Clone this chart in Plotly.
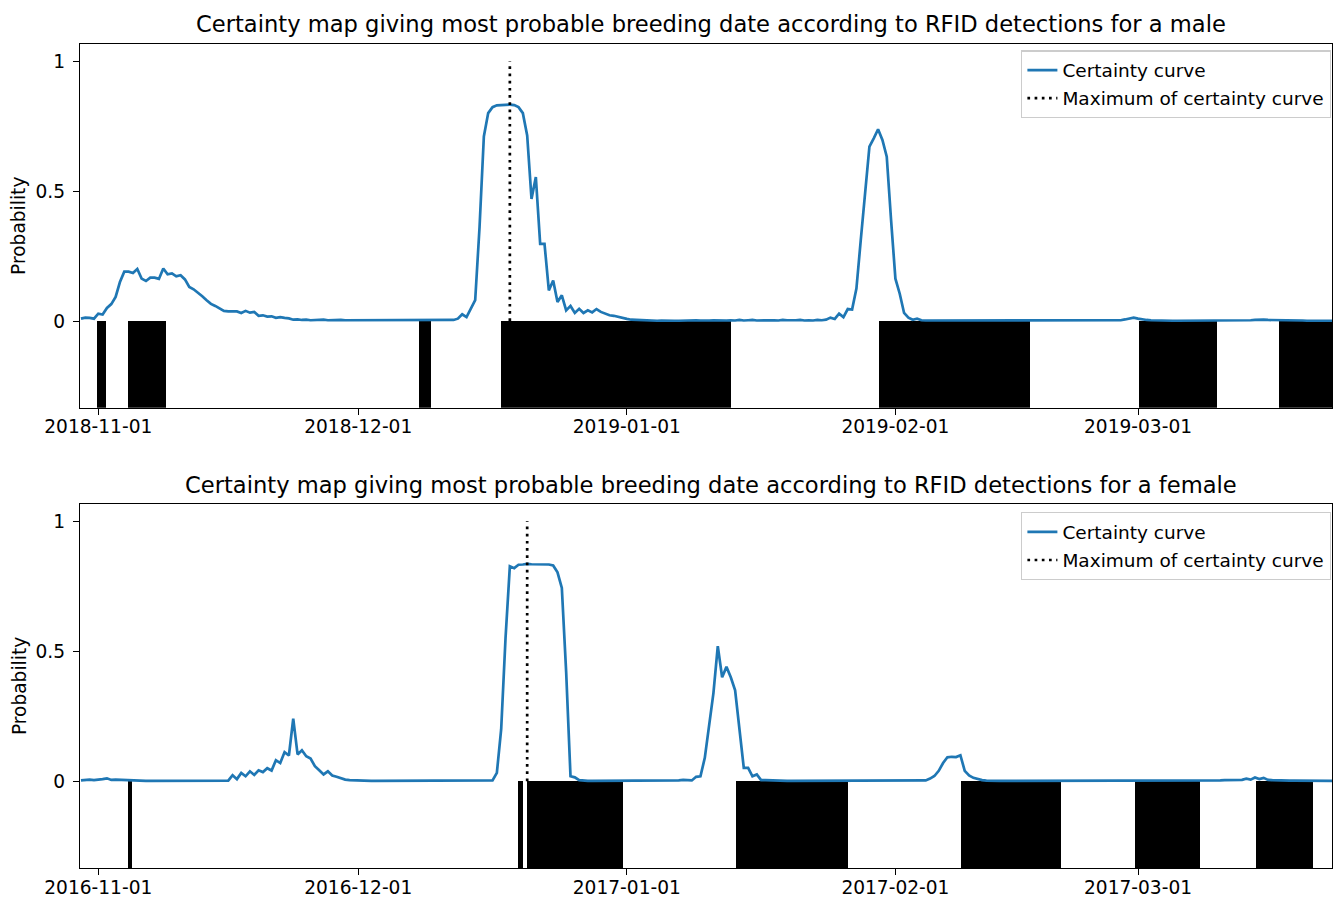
import pandas as pd
import plotly.graph_objects as go

# ---------------- data ----------------
male_start = "2018-10-30 00:00"
female_start = "2016-10-30 00:00"
sample_step = "12h"

male_certainty = [
    0.009, 0.013, 0.012, 0.009, 0.028, 0.025, 0.050, 0.065, 0.093, 0.150,
    0.190, 0.190, 0.185, 0.200, 0.163, 0.154, 0.167, 0.167, 0.162, 0.202,
    0.180, 0.183, 0.172, 0.176, 0.160, 0.131, 0.122, 0.110, 0.095, 0.080,
    0.066, 0.058, 0.050, 0.039, 0.037, 0.037, 0.037, 0.031, 0.039, 0.032,
    0.035, 0.020, 0.022, 0.017, 0.018, 0.012, 0.015, 0.012, 0.010, 0.005,
    0.006, 0.004, 0.005, 0.003, 0.004, 0.003, 0.005, 0.003, 0.004, 0.003,
    0.004, 0.003, 0.003, 0.004, 0.002, 0.003, 0.004, 0.003, 0.002, 0.003,
    0.004, 0.002, 0.003, 0.003, 0.002, 0.004, 0.003, 0.002, 0.003, 0.004,
    0.002, 0.003, 0.003, 0.004, 0.002, 0.003, 0.004, 0.009, 0.026, 0.015,
    0.047, 0.080, 0.360, 0.710, 0.800, 0.823, 0.830, 0.831, 0.832, 0.833,
    0.831, 0.823, 0.800, 0.714, 0.470, 0.554, 0.297, 0.297, 0.118, 0.156,
    0.073, 0.099, 0.041, 0.058, 0.031, 0.047, 0.031, 0.041, 0.033, 0.046,
    0.035, 0.028, 0.022, 0.020, 0.015, 0.012, 0.008, 0.005, 0.004, 0.003,
    0.002, 0.002, 0.002, 0.001, 0.002, 0.001, 0.002, 0.001, 0.001, 0.002,
    0.001, 0.002, 0.003, 0.002, 0.001, 0.002, 0.003, 0.002, 0.003, 0.002,
    0.003, 0.002, 0.004, 0.002, 0.003, 0.004, 0.002, 0.003, 0.002, 0.004,
    0.003, 0.002, 0.004, 0.003, 0.002, 0.003, 0.004, 0.002, 0.003, 0.002,
    0.004, 0.003, 0.005, 0.013, 0.008, 0.028, 0.015, 0.046, 0.044, 0.125,
    0.311, 0.504, 0.671, 0.703, 0.738, 0.697, 0.632, 0.388, 0.163, 0.105,
    0.031, 0.013, 0.005, 0.009, 0.003, 0.002, 0.002, 0.001, 0.001, 0.001,
    0.001, 0.001, 0.001, 0.001, 0.001, 0.001, 0.001, 0.001, 0.001, 0.001,
    0.001, 0.001, 0.001, 0.001, 0.001, 0.001, 0.001, 0.001, 0.001, 0.001,
    0.001, 0.001, 0.001, 0.001, 0.001, 0.001, 0.001, 0.001, 0.001, 0.001,
    0.001, 0.001, 0.001, 0.001, 0.001, 0.001, 0.001, 0.002, 0.002, 0.002,
    0.003, 0.006, 0.009, 0.013, 0.009, 0.006, 0.004, 0.003, 0.002, 0.002,
    0.002, 0.001, 0.001, 0.001, 0.001, 0.001, 0.001, 0.001, 0.001, 0.001,
    0.001, 0.001, 0.001, 0.001, 0.001, 0.001, 0.002, 0.002, 0.002, 0.003,
    0.003, 0.004, 0.005, 0.005, 0.004, 0.004, 0.003, 0.003, 0.002, 0.002,
    0.002, 0.002, 0.002, 0.001, 0.001, 0.001, 0.001, 0.001, 0.001, 0.001,
]

female_certainty = [
    0.003, 0.005, 0.006, 0.004, 0.005, 0.008, 0.011, 0.005, 0.006, 0.005,
    0.006, 0.004, 0.003, 0.002, 0.001, 0.001, 0.001, 0.001, 0.001, 0.001,
    0.001, 0.001, 0.001, 0.001, 0.001, 0.001, 0.001, 0.001, 0.001, 0.001,
    0.001, 0.001, 0.001, 0.001, 0.002, 0.023, 0.008, 0.032, 0.019, 0.038,
    0.024, 0.042, 0.035, 0.050, 0.041, 0.081, 0.070, 0.112, 0.099, 0.241,
    0.103, 0.119, 0.096, 0.087, 0.058, 0.042, 0.026, 0.038, 0.022, 0.017,
    0.010, 0.006, 0.004, 0.003, 0.002, 0.001, 0.001, 0.001, 0.001, 0.001,
    0.001, 0.001, 0.001, 0.001, 0.001, 0.001, 0.001, 0.001, 0.001, 0.001,
    0.001, 0.001, 0.001, 0.001, 0.001, 0.001, 0.001, 0.001, 0.001, 0.001,
    0.001, 0.001, 0.001, 0.001, 0.001, 0.003, 0.032, 0.200, 0.550, 0.827,
    0.820, 0.833, 0.834, 0.836, 0.835, 0.835, 0.835, 0.834, 0.834, 0.830,
    0.804, 0.744, 0.420, 0.019, 0.015, 0.004, 0.002, 0.001, 0.001, 0.001,
    0.001, 0.001, 0.001, 0.001, 0.001, 0.001, 0.001, 0.001, 0.001, 0.001,
    0.001, 0.001, 0.001, 0.001, 0.001, 0.001, 0.001, 0.001, 0.003, 0.005,
    0.004, 0.003, 0.017, 0.019, 0.090, 0.210, 0.340, 0.520, 0.400, 0.440,
    0.400, 0.350, 0.200, 0.051, 0.051, 0.019, 0.026, 0.004, 0.004, 0.003,
    0.002, 0.002, 0.001, 0.001, 0.001, 0.001, 0.001, 0.001, 0.001, 0.001,
    0.001, 0.001, 0.001, 0.001, 0.001, 0.001, 0.001, 0.001, 0.001, 0.001,
    0.001, 0.001, 0.001, 0.001, 0.001, 0.001, 0.001, 0.001, 0.001, 0.001,
    0.001, 0.001, 0.001, 0.001, 0.002, 0.003, 0.010, 0.020, 0.040, 0.070,
    0.092, 0.094, 0.093, 0.100, 0.040, 0.022, 0.013, 0.008, 0.004, 0.002,
    0.001, 0.001, 0.001, 0.001, 0.001, 0.001, 0.001, 0.001, 0.001, 0.001,
    0.001, 0.001, 0.001, 0.001, 0.001, 0.001, 0.001, 0.001, 0.001, 0.001,
    0.001, 0.001, 0.001, 0.001, 0.001, 0.001, 0.001, 0.001, 0.001, 0.001,
    0.001, 0.001, 0.001, 0.001, 0.001, 0.001, 0.001, 0.001, 0.001, 0.001,
    0.001, 0.001, 0.001, 0.001, 0.001, 0.001, 0.001, 0.001, 0.001, 0.001,
    0.002, 0.002, 0.003, 0.003, 0.004, 0.004, 0.005, 0.005, 0.005, 0.010,
    0.006, 0.014, 0.008, 0.013, 0.005, 0.004, 0.003, 0.003, 0.002, 0.002,
    0.002, 0.002, 0.002, 0.001, 0.001, 0.001, 0.001, 0.001, 0.001, 0.001,
]

male_max_date = "2018-12-18 12:00"
female_max_date = "2016-12-20 12:00"
max_line_y = [0, 1]

# RFID detection periods (drawn as black bars below zero)
male_rfid_start = ["2018-10-31 21:00", "2018-11-04 10:15", "2018-12-07 23:30",
                   "2018-12-17 11:30", "2019-01-30 02:20", "2019-03-01 03:20",
                   "2019-03-17 05:30"]
male_rfid_end = ["2018-11-01 20:30", "2018-11-08 20:20", "2018-12-09 09:40",
                 "2019-01-13 00:45", "2019-02-16 14:00", "2019-03-10 04:00",
                 "2019-03-24 12:00"]
female_rfid_start = ["2016-11-04 10:15", "2016-12-19 11:30", "2016-12-20 12:30",
                     "2017-01-13 13:40", "2017-02-08 15:00", "2017-02-28 17:00",
                     "2017-03-14 15:40"]
female_rfid_end = ["2016-11-04 21:20", "2016-12-19 23:35", "2016-12-31 12:40",
                   "2017-01-26 13:40", "2017-02-20 02:40", "2017-03-08 04:00",
                   "2017-03-21 03:40"]

male_ticks = ["2018-11-01", "2018-12-01", "2019-01-01", "2019-02-01", "2019-03-01"]
female_ticks = ["2016-11-01", "2016-12-01", "2017-01-01", "2017-02-01", "2017-03-01"]
male_xrange = ["2018-10-29 21:20", "2019-03-23 09:20"]
female_xrange = ["2016-10-29 21:20", "2017-03-23 09:20"]

y_tick_vals = [0, 0.5, 1]
y_tick_text = ["0", "0.5", "1"]

titles = [
    "Certainty map giving most probable breeding date according to RFID detections for a male",
    "Certainty map giving most probable breeding date according to RFID detections for a female",
]
y_label = "Probability"
legend_names = ["Certainty curve", "Maximum of certainty curve"]

# ---------------- figure ----------------
BLUE = "#1f77b4"
FONT = "DejaVu Sans"
TICK_SIZE = 18.6
fig = go.Figure()


def add_panel(start, values, max_date, rs, re, xa, ya, legend):
    times = pd.date_range(start, periods=len(values), freq=sample_step)
    s = pd.to_datetime(pd.Series(rs))
    e = pd.to_datetime(pd.Series(re))
    mid = s + (e - s) / 2
    width_ms = ((e - s).dt.total_seconds() * 1000).tolist()
    fig.add_trace(go.Bar(
        x=mid, y=[-1] * len(rs), base=0, width=width_ms,
        marker=dict(color="black", line=dict(width=0)),
        xaxis=xa, yaxis=ya, showlegend=False, hoverinfo="skip"))
    fig.add_trace(go.Scatter(
        x=times, y=values, mode="lines", name=legend_names[0],
        line=dict(color=BLUE, width=2.7), xaxis=xa, yaxis=ya,
        legend=legend, legendgroup=legend + "a"))
    fig.add_trace(go.Scatter(
        x=[max_date, max_date], y=max_line_y, mode="lines", name=legend_names[1],
        line=dict(color="black", width=2.7, dash="2.7px,4.5px"),
        xaxis=xa, yaxis=ya, legend=legend, legendgroup=legend + "b"))


add_panel(male_start, male_certainty, male_max_date, male_rfid_start,
          male_rfid_end, "x", "y", "legend")
add_panel(female_start, female_certainty, female_max_date, female_rfid_start,
          female_rfid_end, "x2", "y2", "legend2")

axis_common = dict(showline=True, linecolor="black", linewidth=1.4, mirror=True,
                   ticks="outside", ticklen=6, tickwidth=1.4, tickcolor="black",
                   showgrid=False, zeroline=False, automargin=False,
                   tickfont=dict(family=FONT, size=TICK_SIZE, color="black"))

legend_common = dict(x=0.9992, xanchor="right", yanchor="top",
                     bgcolor="rgba(255,255,255,0.8)", bordercolor="#cccccc",
                     borderwidth=1.4, tracegroupgap=1,
                     font=dict(family=FONT, size=18.5, color="black"))

fig.update_layout(
    width=1333, height=898,
    margin=dict(l=80, r=1, t=44, b=30),
    plot_bgcolor="white", paper_bgcolor="white",
    font=dict(family=FONT, size=TICK_SIZE, color="black"),
    barmode="overlay", bargap=0,
    xaxis=dict(domain=[0, 1], anchor="y", type="date", range=male_xrange,
               tickvals=male_ticks, ticktext=male_ticks, ticklabelstandoff=-4,
               **axis_common),
    yaxis=dict(domain=[0.5585, 1], anchor="x", range=[-0.334, 1.066],
               tickvals=y_tick_vals, ticktext=y_tick_text, ticklabelstandoff=4,
               **axis_common),
    xaxis2=dict(domain=[0, 1], anchor="y2", type="date", range=female_xrange,
                tickvals=female_ticks, ticktext=female_ticks, ticklabelstandoff=-4,
                **axis_common),
    yaxis2=dict(domain=[0, 0.4415], anchor="x2", range=[-0.334, 1.066],
                tickvals=y_tick_vals, ticktext=y_tick_text, ticklabelstandoff=4,
                **axis_common),
    legend=dict(y=0.9925, **legend_common),
    legend2=dict(y=0.4320, **legend_common),
)

# titles
for txt, yy in zip(titles, [1.0243, 0.4648]):
    fig.add_annotation(text=txt, xref="paper", yref="paper", x=0.504, y=yy,
                       xanchor="center", yanchor="middle", showarrow=False,
                       font=dict(family=FONT, size=22.6, color="black"))
# y labels
for yy in [0.7793, 0.2208]:
    fig.add_annotation(text=y_label, xref="paper", yref="paper", x=-0.0487, y=yy,
                       xanchor="center", yanchor="middle", textangle=-90,
                       showarrow=False,
                       font=dict(family=FONT, size=TICK_SIZE, color="black"))

fig.write_html(
    "out.html",
    config={"displayModeBar": False},
    post_script="document.body.style.margin='0';document.body.style.overflow='hidden';",
)
